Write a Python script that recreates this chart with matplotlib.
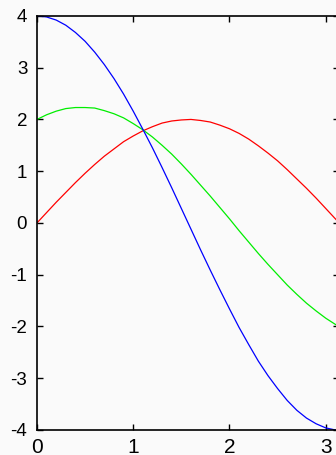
import matplotlib
matplotlib.use("Agg")
import matplotlib.pyplot as plt

# values
x = [0.0, 0.1, 0.2, 0.3, 0.4, 0.5, 0.6, 0.7, 0.8, 0.9, 1.0, 1.1, 1.2, 1.3, 1.4, 1.5,
     1.6, 1.7, 1.8, 1.9, 2.0, 2.1, 2.2, 2.3, 2.4, 2.5, 2.6, 2.7, 2.8, 2.9, 3.0, 3.1, 3.14]
red = [0.00, 0.20, 0.40, 0.59, 0.78, 0.96, 1.13, 1.29, 1.43, 1.57, 1.68, 1.78, 1.86, 1.93, 1.97, 1.99,
       2.00, 1.98, 1.95, 1.89, 1.82, 1.73, 1.62, 1.49, 1.35, 1.20, 1.03, 0.85, 0.67, 0.48, 0.28, 0.08, 0.00]
blue = [4.00, 3.98, 3.92, 3.82, 3.68, 3.51, 3.30, 3.06, 2.79, 2.49, 2.16, 1.81, 1.45, 1.07, 0.68, 0.28,
        -0.12, -0.52, -0.91, -1.29, -1.66, -2.02, -2.35, -2.67, -2.95, -3.20, -3.43, -3.62, -3.77, -3.88, -3.96, -4.00, -4.00]
green = [2.00, 2.09, 2.16, 2.21, 2.23, 2.23, 2.22, 2.17, 2.11, 2.03, 1.92, 1.80, 1.66, 1.50, 1.33, 1.14,
         0.94, 0.73, 0.52, 0.30, 0.08, -0.15, -0.37, -0.59, -0.80, -1.00, -1.20, -1.38, -1.55, -1.70, -1.84, -1.96, -2.00]
xticks = [0, 1, 2, 3]
yticks = [-4, -3, -2, -1, 0, 1, 2, 3, 4]

plt.rcParams['font.family'] = ['Liberation Sans', 'DejaVu Sans']
plt.rcParams['axes.unicode_minus'] = False

fig = plt.figure(figsize=(3.36, 4.55), dpi=100, facecolor='#fafafa')
# axes run out past the right edge of the picture, as in the reference
ax = fig.add_axes([0.110, 0.055, 0.900, 0.910])
ax.set_facecolor('#fafafa')

ax.plot(x, red, color='#ff0000', lw=0.9)
ax.plot(x, green, color='#00ee00', lw=0.9)
ax.plot(x, blue, color='#0000ff', lw=0.9)

ax.set_xlim(0, 3.1416)
ax.set_ylim(-4, 4)
ax.set_xticks(xticks)
ax.set_yticks(yticks)
ax.set_xticklabels([str(t) for t in xticks], fontsize=15)
ax.set_yticklabels([str(t) for t in yticks], fontsize=13.5)
ax.tick_params(direction='in', length=4, width=1, top=True, right=True, colors='black')
ax.tick_params(axis='x', pad=5.5)
ax.tick_params(axis='y', pad=7)
for s in ax.spines.values():
    s.set_linewidth(1.2)

fig.savefig("out.png", dpi=100, facecolor=fig.get_facecolor())
